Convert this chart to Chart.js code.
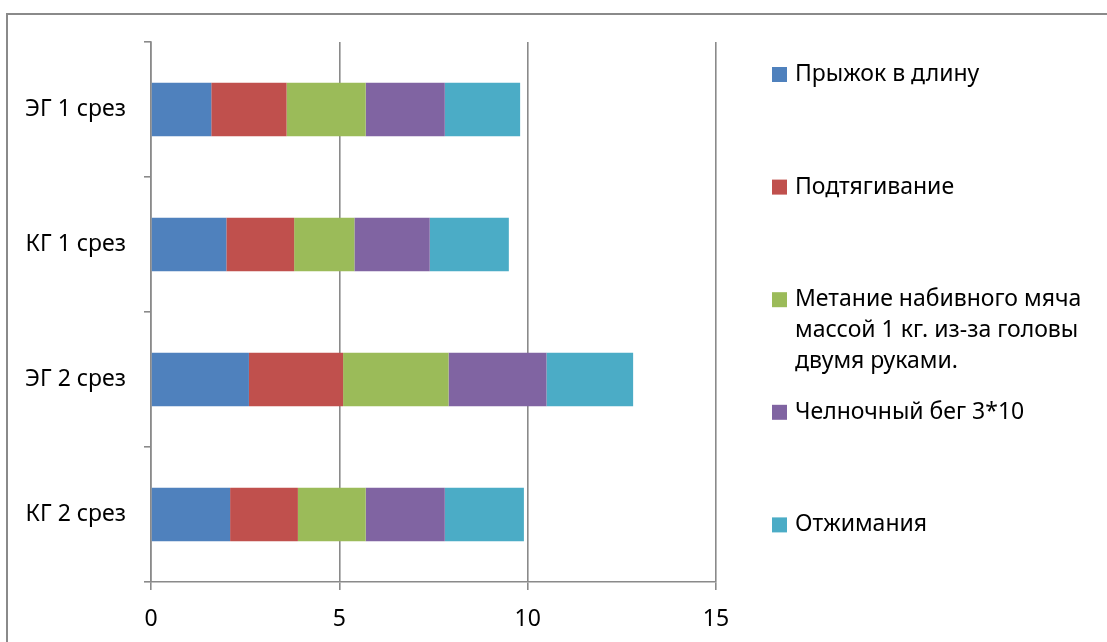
<!DOCTYPE html>
<html>
<head>
<meta charset="utf-8">
<script src="https://cdn.jsdelivr.net/npm/chart.js@4/dist/chart.umd.min.js"></script>
<style>
  html, body { margin: 0; padding: 0; background: #fff; }
  #wrap { width: 1107px; height: 642px; }
</style>
</head>
<body>
<div id="wrap"><canvas id="c" width="1107" height="642"></canvas></div>
<script>
// Test groups (rows of the bar chart)
const categories = ['ЭГ 1 срез', 'КГ 1 срез', 'ЭГ 2 срез', 'КГ 2 срез'];

// Exercise series (legend order), with their legend line breaks
const seriesNames = [
  ['Прыжок в длину'],
  ['Подтягивание'],
  ['Метание набивного мяча', 'массой 1 кг. из-за головы', 'двумя руками.'],
  ['Челночный бег 3*10'],
  ['Отжимания']
];

// Scores per group, in category order
const longJump   = [1.6, 2.0, 2.6, 2.1];
const pullUps    = [2.0, 1.8, 2.5, 1.8];
const ballThrow  = [2.1, 1.6, 2.8, 1.8];
const shuttleRun = [2.1, 2.0, 2.6, 2.1];
const pushUps    = [2.0, 2.1, 2.3, 2.1];

const xTicks = [0, 5, 10, 15];

const colors = ['#4F81BD', '#C0504D', '#9BBB59', '#8064A2', '#4BACC6'];
const seriesValues = [longJump, pullUps, ballThrow, shuttleRun, pushUps];

const FONT = '"Noto Sans", "DejaVu Sans", sans-serif';
const FONT_SIZE = 23;
const AXIS_GRAY = '#8a8a8a';

// Outer frame of the chart object
const framePlugin = {
  id: 'frame',
  beforeDraw(chart) {
    const ctx = chart.ctx;
    ctx.save();
    ctx.strokeStyle = AXIS_GRAY;
    ctx.lineWidth = 2;
    ctx.strokeRect(7, 14, 1200, 700);
    ctx.restore();
  }
};

// Legend on the right, with wrapped multi-line entries
const sideLegend = {
  id: 'sideLegend',
  afterDraw(chart) {
    const ctx = chart.ctx;
    ctx.save();
    ctx.font = FONT_SIZE + 'px ' + FONT;
    ctx.textBaseline = 'middle';
    ctx.textAlign = 'left';
    const firstY = 74.5, step = 112.6, lineH = 31;
    chart.data.datasets.forEach((ds, i) => {
      const y = firstY + i * step;
      ctx.fillStyle = ds.backgroundColor;
      ctx.fillRect(772, y - 7.5, 15, 15);
      ctx.fillStyle = '#000';
      ds.legendLines.forEach((line, k) => {
        ctx.fillText(line, 795, y + k * lineH);
      });
    });
    ctx.restore();
  }
};

new Chart(document.getElementById('c'), {
  type: 'bar',
  data: {
    labels: categories,
    datasets: seriesValues.map((vals, i) => ({
      label: seriesNames[i].join(' '),
      legendLines: seriesNames[i],
      data: vals,
      backgroundColor: colors[i],
      borderWidth: 0,
      categoryPercentage: 1,
      barPercentage: 0.395
    }))
  },
  options: {
    indexAxis: 'y',
    responsive: false,
    animation: false,
    layout: { padding: { left: 0, top: 42, right: 391, bottom: 0 } },
    plugins: {
      legend: { display: false },
      tooltip: { enabled: false }
    },
    scales: {
      x: {
        stacked: true,
        min: 0,
        max: 15,
        afterBuildTicks(scale) { scale.ticks = xTicks.map(v => ({ value: v })); },
        afterFit(scale) { scale.height = 60; },
        grid: {
          color: AXIS_GRAY,
          lineWidth: 1.6,
          drawTicks: true,
          tickLength: 8,
          tickColor: AXIS_GRAY
        },
        border: { color: AXIS_GRAY, width: 1.6 },
        ticks: {
          color: '#000',
          font: { family: FONT, size: FONT_SIZE },
          padding: 16,
          maxRotation: 0
        }
      },
      y: {
        stacked: true,
        afterFit(scale) { scale.width = 151; },
        grid: {
          drawOnChartArea: false,
          drawTicks: true,
          tickLength: 7,
          tickColor: AXIS_GRAY,
          lineWidth: 1.6,
          offset: true
        },
        border: { color: AXIS_GRAY, width: 1.6 },
        ticks: {
          color: '#000',
          font: { family: FONT, size: FONT_SIZE },
          padding: 18
        }
      }
    }
  },
  plugins: [framePlugin, sideLegend]
});
</script>
</body>
</html>
